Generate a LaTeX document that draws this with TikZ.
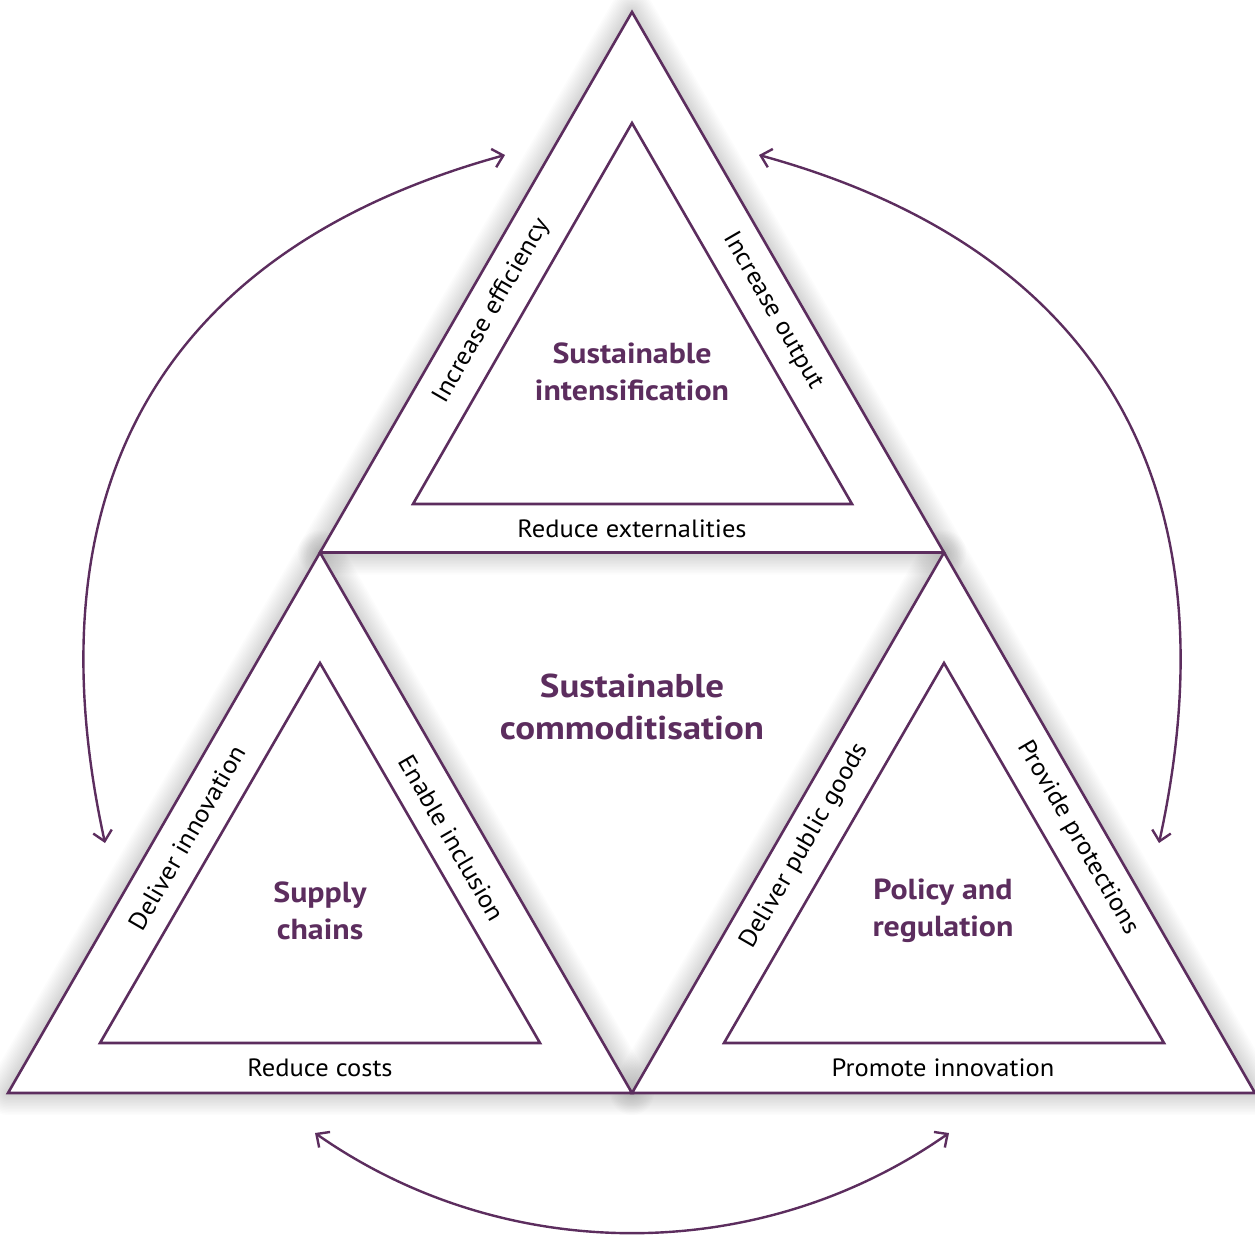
\documentclass[tikz,border=0pt]{standalone}
\usepackage{fontspec}
\setmainfont{PT Sans}
\newfontfamily\labfont{PT Sans}[FakeStretch=1.06]
\newfontfamily\ttlfont{PT Sans}[FakeStretch=1.10]
\newfontfamily\bigttlfont{PT Sans}[FakeStretch=1.12]
\usetikzlibrary{arrows.meta}
\definecolor{plum}{RGB}{92,45,94}
\newcommand\softshadow[1]{%
  \foreach \w in {2,5,...,44} {%
    \draw[line width=\w pt, draw=black, draw opacity=0.011, line join=round, shift={(6,8)}] #1;%
  }%
}
\begin{document}
\begin{tikzpicture}[x=1pt,y=-1pt,
  outline/.style={draw=plum, line width=2.6pt, line join=miter},
  whitefill/.style={fill=white, draw=none},
  arc/.style={draw=plum, line width=2.4pt, {Straight Barb[length=10pt,width=19pt,line width=2.4pt]}-{Straight Barb[length=10pt,width=19pt,line width=2.4pt]}},
  lab/.style={font=\labfont\fontsize{25}{28}\selectfont, text=black, inner sep=0pt},
  ttl/.style={font=\ttlfont\fontsize{29}{37}\selectfont\bfseries, text=plum, align=center, inner sep=0pt},
  bigttl/.style={font=\bigttlfont\fontsize{33}{42}\selectfont\bfseries, text=plum, align=center, inner sep=0pt},
]
\useasboundingbox (0,0) rectangle (1255,1235);
% outer vertices
\coordinate (T) at (632,12);
\coordinate (L) at (8,1093);
\coordinate (R) at (1255,1093);
\coordinate (ML) at (320,552.5);
\coordinate (MR) at (944,552.5);
\coordinate (MB) at (632,1093);
% inner triangles
\coordinate (ta) at (632,123);  \coordinate (tb) at (413,504);  \coordinate (tc) at (852,504);
\coordinate (la) at (320,663);  \coordinate (lb) at (100,1043); \coordinate (lc) at (540,1043);
\coordinate (ra) at (944,663);  \coordinate (rb) at (724,1043); \coordinate (rc) at (1164,1043);

% shadows
\softshadow{(T) -- (ML) -- (MR) -- cycle}
\softshadow{(ML) -- (L) -- (MB) -- cycle}
\softshadow{(MR) -- (MB) -- (R) -- cycle}
\fill[whitefill] (T) -- (ML) -- (MR) -- cycle;
\fill[whitefill] (ML) -- (L) -- (MB) -- cycle;
\fill[whitefill] (MR) -- (MB) -- (R) -- cycle;

% outlines
\draw[outline] (T) -- (ML) -- (MR) -- cycle;
\draw[outline] (ML) -- (L) -- (MB) -- cycle;
\draw[outline] (MR) -- (MB) -- (R) -- cycle;
\draw[outline] (ta) -- (tb) -- (tc) -- cycle;
\draw[outline] (la) -- (lb) -- (lc) -- cycle;
\draw[outline] (ra) -- (rb) -- (rc) -- cycle;

% titles
\node[ttl] (si) at (632,372) {Sustainable\\intensification};
\node[bigttl] (sc) at (632,707) {Sustainable\\commoditisation};
\node[ttl] (sup) at (320,911) {Supply\\chains};
\node[ttl] (pol) at (943,911) {Policy and\\regulation};

% edge labels
\node[lab, rotate=60] (ie) at (492,311) {Increase efficiency};
\node[lab, rotate=-60] (io) at (773,311) {Increase output};
\node[lab] (re) at (632,529) {Reduce externalities};
\node[lab, rotate=60] (di) at (187,838) {Deliver innovation};
\node[lab, rotate=-60] (ei) at (452,838) {Enable inclusion};
\node[lab] (rc) at (320,1068) {Reduce costs};
\node[lab, rotate=60] (dp) at (805,846) {Deliver public goods};
\node[lab, rotate=-60] (pp) at (1078,838) {Provide protections};
\node[lab] (pi) at (943,1068) {Promote innovation};

% arcs
\coordinate (a1) at (505,155);
\coordinate (a2) at (105,843);
\coordinate (b1) at (759,155);
\coordinate (b2) at (1159,843);
\coordinate (c1) at (315,1133);
\coordinate (c2) at (949,1133);
\draw[arc] (a1) .. controls (160,250) and (28,490) .. (a2);
\draw[arc] (b1) .. controls (1104,250) and (1236,490) .. (b2);
\draw[arc] (c1) .. controls (505,1266) and (759,1266) .. (c2);
\end{tikzpicture}
\end{document}
